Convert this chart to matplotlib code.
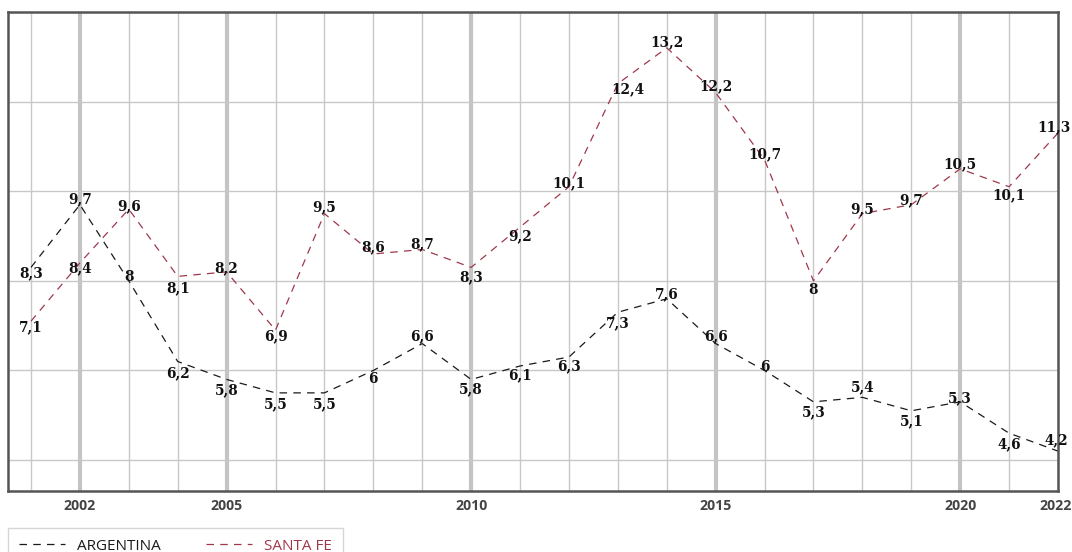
import numpy as np
import matplotlib
matplotlib.use('Agg')
import matplotlib.pyplot as plt

years = list(range(2001, 2023))
argentina = [8.3, 9.7, 8, 6.2, 5.8, 5.5, 5.5, 6, 6.6, 5.8, 6.1, 6.3, 7.3, 7.6, 6.6, 6, 5.3, 5.4, 5.1, 5.3, 4.6, 4.2]
santa_fe = [7.1, 8.4, 9.6, 8.1, 8.2, 6.9, 9.5, 8.6, 8.7, 8.3, 9.2, 10.1, 12.4, 13.2, 12.2, 10.7, 8, 9.5, 9.7, 10.5, 10.1, 11.3]
tick_years = [2002, 2005, 2010, 2015, 2020]
last_year = 2022
major_years = [2002, 2005, 2010, 2015, 2020]

# label offsets in pixels (dx, dy), positive dy = up
arg_off = [(0, -6), (0, 5), (0, 4), (0, -12), (0, -11), (0, -11), (0, -11), (0, -9), (0, 7), (0, -10),
           (0, -9), (0, -9), (0, -11), (0, 5), (0, 7), (0, 3), (0, -10), (0, 10), (0, -10), (0, 4),
           (0, -11), (-2, 11)]
sf_off = [(0, -6), (0, -5), (0, 3), (0, -12), (0, 4), (0, -6), (0, 6), (0, 7), (0, 5), (0, -10),
          (0, -9), (0, 4), (10, -6), (0, 6), (0, 6), (0, 6), (0, -9), (0, 4), (0, 4), (0, 5),
          (0, -8), (-4, 6)]

arg_color = '#1a1a1a'
sf_color = '#a0384c'

fig = plt.figure(figsize=(10.72, 5.52), dpi=100)
ax = fig.add_axes([8/1072, 1 - 491/552, 1050/1072, 479/552])

ax.set_xlim(2000.53, 2022)
ax.set_ylim(3.31, 14.0)

for yr in years:
    if yr in major_years:
        ax.axvline(yr, color='#c4c4c4', lw=3.0, zorder=0)
    else:
        ax.axvline(yr, color='#c8c8c8', lw=1.0, zorder=0)
for v in range(4, 14, 2):
    ax.axhline(v, color='#c8c8c8', lw=1.0, zorder=0)

ax.plot(years, argentina, color=arg_color, lw=0.9, dashes=(6, 5), label='ARGENTINA', zorder=2)
ax.plot(years, santa_fe, color=sf_color, lw=0.9, dashes=(6, 5), label='SANTA FE', zorder=2)

lab_font = dict(family='DejaVu Serif', fontweight='bold', fontsize=9.8, color='#111111')
for x, y, (dx, dy) in zip(years, argentina, arg_off):
    ax.annotate(f'{y:g}'.replace('.', ','), (x, y), xytext=(dx * 0.72, dy * 0.72),
                textcoords='offset points', ha='center', va='center', zorder=3, **lab_font)
for x, y, (dx, dy) in zip(years, santa_fe, sf_off):
    ax.annotate(f'{y:g}'.replace('.', ','), (x, y), xytext=(dx * 0.72, dy * 0.72),
                textcoords='offset points', ha='center', va='center', zorder=3, **lab_font)

tick_font = dict(fontsize=10.2, fontweight='bold', color='#444444', family='Open Sans')
ax.set_xticks(tick_years)
ax.set_xticklabels([str(t) for t in tick_years], **tick_font)
# last year label nudged left so it stays inside the picture
ax.annotate(str(last_year), (last_year, 0), xycoords=ax.get_xaxis_transform(),
            xytext=(-2, -6), textcoords='offset points', ha='center', va='top',
            annotation_clip=False, **tick_font)
ax.set_yticks([])
ax.tick_params(axis='x', length=0, pad=6)
for s in ax.spines.values():
    s.set_color('#555555')
    s.set_linewidth(1.8)

leg = fig.legend(loc='upper left', bbox_to_anchor=(8/1072, 1 - 528/552), ncol=2,
                 frameon=True, fancybox=False, edgecolor='#cccccc',
                 prop={'family': 'Open Sans', 'size': 11}, handlelength=3.0,
                 columnspacing=3.0, borderpad=0.7, handletextpad=0.8, borderaxespad=0)
leg.get_frame().set_linewidth(1.0)
for txt, col in zip(leg.get_texts(), [arg_color, sf_color]):
    txt.set_color(col)

fig.savefig('out.png', dpi=100)
